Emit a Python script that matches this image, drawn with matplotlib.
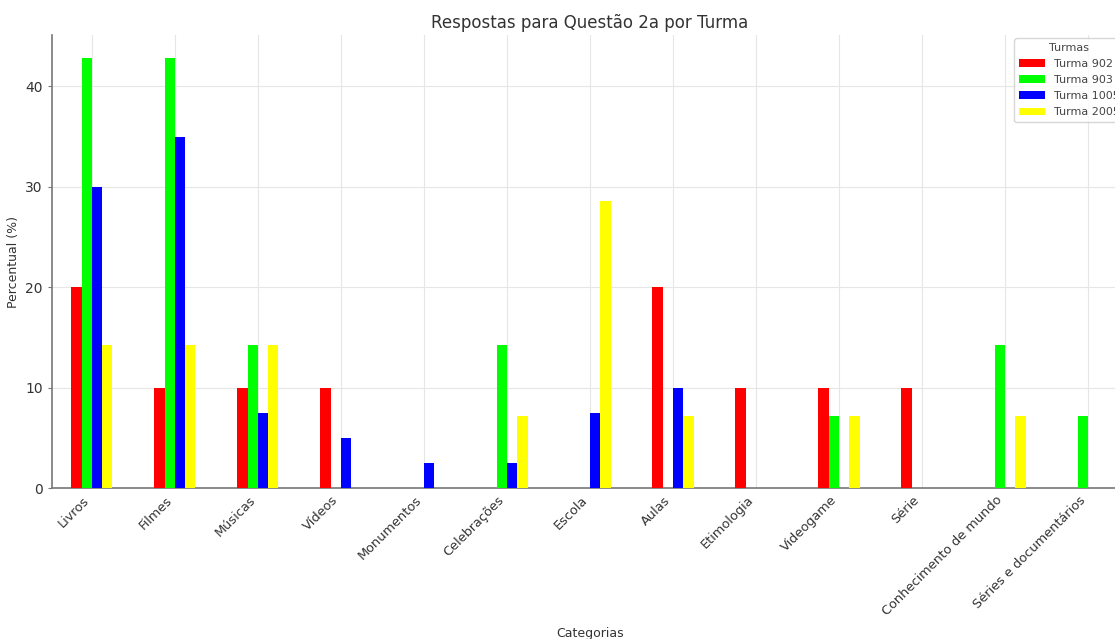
import numpy as np
import matplotlib
matplotlib.use("Agg")
from matplotlib import pyplot as plt

categorias = ["Livros", "Filmes", "Músicas", "Vídeos", "Monumentos", "Celebrações",
              "Escola", "Aulas", "Etimologia", "Videogame", "Série",
              "Conhecimento de mundo", "Séries e documentários"]
turmas = ["Turma 902", "Turma 903", "Turma 1005", "Turma 2005"]
turma_902 = [20, 10, 10, 10, 0, 0, 0, 20, 10, 10, 10, 0, 0]
turma_903 = [42.86, 42.86, 14.29, 0, 0, 14.29, 0, 0, 0, 7.14, 0, 14.29, 7.14]
turma_1005 = [30, 35, 7.5, 5, 2.5, 2.5, 7.5, 10, 0, 0, 0, 0, 0]
turma_2005 = [14.29, 14.29, 14.29, 0, 0, 7.14, 28.57, 7.14, 0, 7.14, 0, 7.14, 0]
cores = ["#ff0000", "#00ff00", "#0000ff", "#ffff00"]

fig = plt.figure(figsize=(11.15, 6.39), dpi=100)
# axes run a little past the right edge, like the cropped original
ax = fig.add_axes([0.0466, 0.2363, 0.965, 0.7087])

x = np.arange(len(categorias))
w = 0.124
series = [turma_902, turma_903, turma_1005, turma_2005]
for i, (vals, nome, cor) in enumerate(zip(series, turmas, cores)):
    ax.bar(x + (i - 1.5) * w, vals, w, label=nome, color=cor, zorder=3)

ax.set_xlim(-0.48, 12.48)
ax.set_ylim(0, 45.1)
ax.set_xticks(x)
ax.set_xticklabels(categorias, rotation=45, ha="right", fontsize=9.3, color="#333333")
ax.set_yticks([0, 10, 20, 30, 40])
ax.tick_params(axis="y", labelsize=10, colors="#333333", length=3, color="#777777")
ax.tick_params(axis="x", length=0, pad=4)

ax.grid(True, color="#e6e6e6", linewidth=0.8, zorder=0)
for s in ["top", "right"]:
    ax.spines[s].set_visible(False)
for s in ["left", "bottom"]:
    ax.spines[s].set_color("#777777")
    ax.spines[s].set_linewidth(1.2)

ax.set_title("Respostas para Questão 2a por Turma", fontsize=12, color="#333333", pad=5)
ax.set_ylabel("Percentual (%)", fontsize=9, color="#333333")
ax.set_xlabel("Categorias", fontsize=9, color="#333333", labelpad=6)

leg = ax.legend(title="Turmas", loc="upper right", fontsize=8, title_fontsize=8,
                handlelength=2.4, handleheight=0.7, labelspacing=0.55, borderaxespad=0.3)
for t in leg.get_texts():
    t.set_color("#444444")
leg.get_title().set_color("#444444")

plt.savefig("out.png", dpi=100)
